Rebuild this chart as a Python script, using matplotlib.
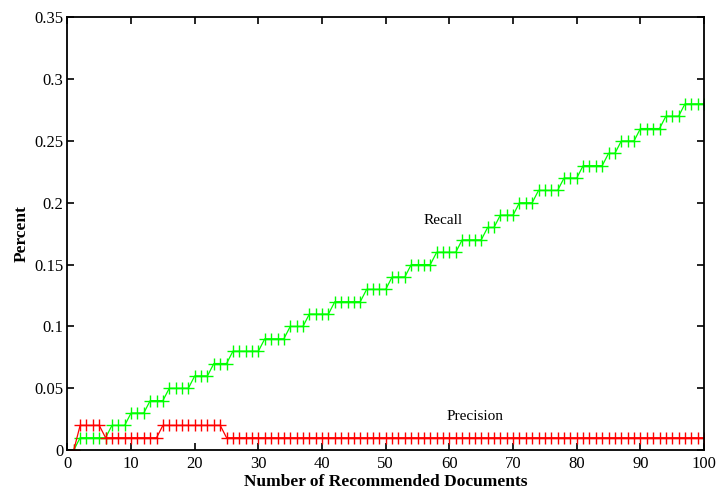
import matplotlib.pyplot as plt
import numpy as np

# x: number of recommended documents, 1..100
docs = np.arange(1, 101)

# recall level and how many consecutive documents stay at that level
recall_levels = [0.00, 0.01, 0.02, 0.03, 0.04, 0.05, 0.06, 0.07, 0.08, 0.09,
                 0.10, 0.11, 0.12, 0.13, 0.14, 0.15, 0.16, 0.17, 0.18, 0.19,
                 0.20, 0.21, 0.22, 0.23, 0.24, 0.25, 0.26, 0.27, 0.28]
recall_runs = [1, 5, 3, 3, 3, 4, 3, 3, 5, 4,
               3, 4, 5, 4, 3, 4, 4, 4, 2, 3,
               3, 4, 3, 4, 2, 3, 4, 3, 4]

precision_levels = [0.00, 0.02, 0.01, 0.02, 0.01]
precision_runs = [1, 4, 9, 10, 76]

recall = np.repeat(recall_levels, recall_runs)
precision = np.repeat(precision_levels, precision_runs)

plt.rcParams['font.family'] = ['Liberation Serif', 'DejaVu Serif']

fig = plt.figure(figsize=(7.17, 4.93), dpi=100)
ax = fig.add_axes([0.094, 0.087, 0.888, 0.878])

ax.plot(docs, recall, color='#00ff00', lw=0.9, marker='+', ms=8, mew=1.0)
ax.plot(docs, precision, color='#ff0000', lw=0.9, marker='+', ms=8, mew=1.0)

ax.text(59, 0.186, 'Recall', fontsize=11, ha='center', va='center')
ax.text(64, 0.027, 'Precision', fontsize=11, ha='center', va='center')

ax.set_xlim(0, 100)
ax.set_ylim(0, 0.35)
ax.set_xticks(np.arange(0, 101, 10))
ax.set_yticks(np.arange(0, 0.351, 0.05))
ax.set_yticklabels(['0', '0.05', '0.1', '0.15', '0.2', '0.25', '0.3', '0.35'])
ax.tick_params(direction='in', length=5, width=1.2, labelsize=12,
               top=True, right=True, pad=3)
ax.tick_params(axis='x', pad=4)
for s in ax.spines.values():
    s.set_linewidth(1.3)

ax.set_xlabel('Number of Recommended Documents', fontsize=12.5, fontweight='bold', labelpad=2)
ax.set_ylabel('Percent', fontsize=12.5, fontweight='bold', labelpad=3)

fig.savefig('out.png', dpi=100)
